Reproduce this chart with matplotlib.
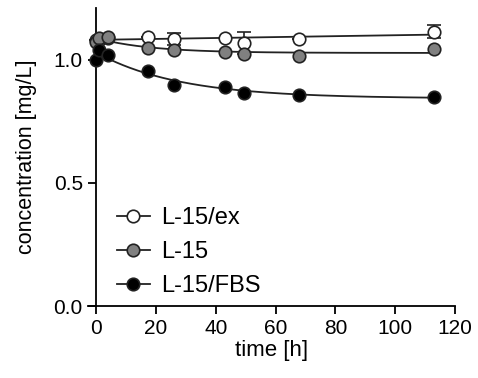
import numpy as np
import matplotlib
matplotlib.use("Agg")
import matplotlib.pyplot as plt

plt.rcParams['font.family'] = ['Liberation Sans', 'DejaVu Sans']

# sampling times [h]
time_h = [0, 1, 4, 17.5, 26, 43, 49.5, 68, 113]

# measured concentrations [mg/L]
l15_ex = [1.08, 1.08, 1.09, 1.093, 1.085, 1.089, 1.069, 1.085, 1.114]
l15_ex_err = [0, 0, 0, 0, 0.024, 0, 0.045, 0, 0.027]
l15 = [1.07, 1.09, 1.093, 1.049, 1.041, 1.033, 1.024, 1.016, 1.045]
l15_fbs = [1.00, 1.04, 1.02, 0.955, 0.898, 0.89, 0.866, 0.858, 0.85]

labels = ['L-15/ex', 'L-15', 'L-15/FBS']
faces = ['white', '#808080', 'black']


def fit_decay(t, y):
    # one-phase decay y = plateau + span*exp(-k t), k by grid search
    t = np.asarray(t, float)
    y = np.asarray(y, float)
    best = None
    for k in np.linspace(0.005, 0.5, 400):
        A = np.column_stack([np.ones_like(t), np.exp(-k * t)])
        coef, res, _, _ = np.linalg.lstsq(A, y, rcond=None)
        err = np.sum((A @ coef - y) ** 2)
        if best is None or err < best[0]:
            best = (err, k, coef)
    _, k, coef = best
    return lambda x: coef[0] + coef[1] * np.exp(-k * x)


tt = np.linspace(0, 113, 300)
lin = np.polyfit(time_h, l15_ex, 1)
curves = [np.polyval(lin, tt), fit_decay(time_h, l15)(tt), fit_decay(time_h, l15_fbs)(tt)]

fig = plt.figure(figsize=(4.78, 3.78), dpi=100)
ax = fig.add_axes([0.184, 0.19, 0.768, 0.789])

series = [l15_ex, l15, l15_fbs]
errs = [l15_ex_err, None, None]
for y, e, c, fc, lab in zip(series, errs, curves, faces, labels):
    ax.plot(tt, c, color='#222222', lw=1.3, zorder=2)
    if e is not None:
        ax.errorbar(time_h, y, yerr=e, fmt='none', ecolor='#222222',
                    elinewidth=1.2, capsize=5, capthick=1.2, zorder=2)
    ax.plot(time_h, y, 'o', ms=9, mfc=fc, mec='#222222', mew=1.2, zorder=3)
    ax.plot([], [], '-o', color='#222222', lw=1.3, ms=9, mfc=fc,
            mec='#222222', mew=1.2, label=lab)

ax.set_xlim(-2.7, 120)
ax.set_ylim(0, 1.21)
ax.set_xticks([0, 20, 40, 60, 80, 100, 120])
ax.set_yticks([0.0, 0.5, 1.0])
ax.set_yticklabels(['0.0', '0.5', '1.0'])
ax.spines['top'].set_visible(False)
ax.spines['right'].set_visible(False)
ax.spines['left'].set_position(('data', 0))
for s in ('left', 'bottom'):
    ax.spines[s].set_linewidth(1.3)
ax.tick_params(direction='out', length=6, width=1.3, labelsize=15)
ax.set_xlabel('time [h]', fontsize=16, labelpad=1)
ax.set_ylabel('concentration [mg/L]', fontsize=15.5, labelpad=12)

ax.legend(loc='lower left', bbox_to_anchor=(0.02, -0.04), frameon=False,
          fontsize=17, handlelength=1.4, handletextpad=0.5, labelspacing=0.5)

fig.savefig('out.png', dpi=100)
